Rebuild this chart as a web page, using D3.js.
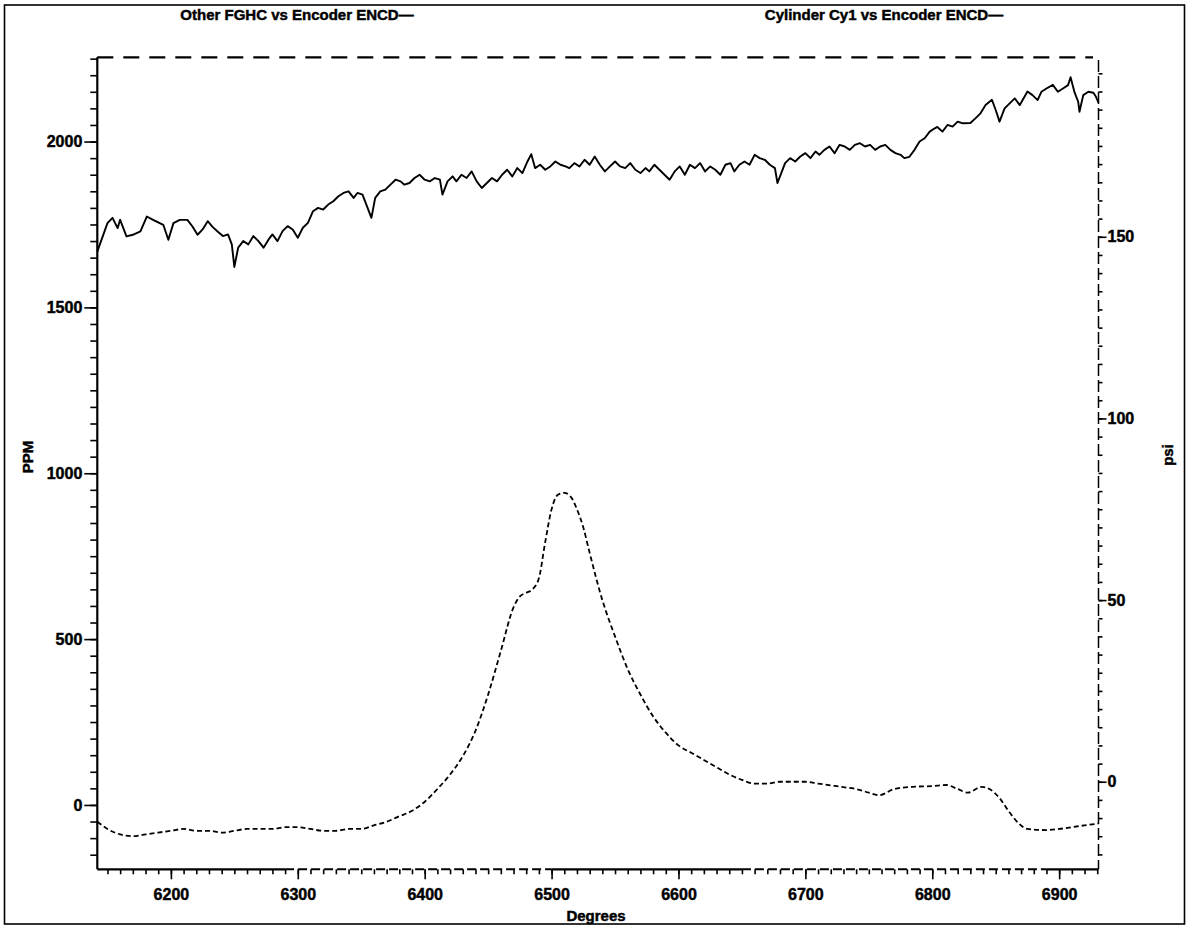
<!DOCTYPE html>
<html>
<head>
<meta charset="utf-8">
<script src="https://cdn.jsdelivr.net/npm/d3@7"></script>
<style>
  body { margin: 0; background: #fff; }
  svg text { font-family: "Liberation Sans", Arial, sans-serif; font-weight: bold; fill: #000; stroke: #000; stroke-width: 0.45px; }
</style>
</head>
<body>
<svg id="chart" width="1188" height="927"></svg>
<script>
// Other FGHC (PPM) against encoder angle (degrees)
const fghcDeg = [6142,6150,6154,6158,6160,6165,6170,6176,6181,6186,6194,6198,6202,6207,6213,6217,6221,6225,6229,6233,6237,6241,6245,6248,6250,6253,6257,6261,6265,6269,6273,6277,6280,6284,6288,6292,6296,6300,6304,6308,6312,6316,6320,6324,6328,6332,6336,6340,6344,6347,6351,6355,6358,6361,6365,6369,6373,6377,6381,6384,6388,6392,6396,6400,6404,6408,6412,6414,6418,6422,6425,6429,6433,6437,6441,6445,6449,6453,6457,6461,6465,6469,6473,6477,6481,6484,6487,6491,6495,6499,6503,6507,6511,6514,6518,6522,6526,6530,6534,6538,6542,6546,6550,6554,6558,6562,6566,6570,6574,6577,6581,6585,6589,6593,6597,6601,6605,6609,6613,6617,6621,6625,6629,6633,6637,6641,6644,6648,6652,6656,6660,6664,6668,6672,6676,6678,6681,6684,6688,6692,6696,6700,6704,6708,6711,6715,6719,6723,6727,6731,6735,6739,6743,6747,6751,6755,6759,6763,6767,6771,6775,6778,6782,6786,6790,6794,6798,6802,6804,6808,6812,6816,6820,6824,6830,6834,6838,6842,6847,6850,6853,6857,6861,6865,6869,6875,6879,6883,6886,6890,6895,6899,6903,6907,6909,6912,6915,6916,6919,6923,6927,6929,6931];
const fghcPpm = [1668,1754,1770,1739,1764,1714,1719,1729,1774,1764,1749,1704,1754,1764,1764,1744,1719,1735,1760,1742,1728,1715,1720,1690,1622,1680,1700,1690,1715,1700,1680,1705,1720,1700,1730,1745,1735,1710,1740,1755,1790,1800,1795,1810,1820,1835,1845,1850,1830,1845,1840,1800,1770,1830,1850,1855,1870,1885,1880,1870,1875,1890,1900,1885,1880,1890,1885,1840,1880,1895,1880,1900,1890,1910,1880,1860,1875,1890,1880,1900,1915,1895,1920,1905,1940,1962,1920,1930,1915,1925,1940,1930,1925,1920,1935,1925,1945,1930,1955,1930,1910,1925,1940,1925,1920,1935,1915,1905,1920,1910,1930,1915,1900,1885,1910,1925,1900,1930,1920,1935,1910,1925,1915,1900,1930,1935,1910,1930,1940,1930,1960,1950,1945,1930,1920,1875,1905,1935,1950,1940,1955,1965,1950,1970,1960,1975,1985,1965,1990,1985,1975,1990,1995,1985,1990,1975,1985,1990,1975,1965,1960,1950,1954,1975,2000,2010,2030,2040,2044,2030,2050,2045,2060,2055,2056,2070,2085,2110,2126,2095,2060,2100,2115,2130,2110,2151,2140,2125,2150,2160,2171,2150,2160,2170,2194,2150,2120,2090,2140,2150,2147,2135,2117];

// Cylinder Cy1 pressure (psi) against encoder angle (degrees)
const cylDeg = [6142,6150,6160,6170,6180,6190,6200,6210,6220,6230,6240,6250,6260,6270,6280,6290,6300,6310,6320,6330,6340,6350,6360,6370,6380,6390,6400,6410,6420,6430,6440,6450,6460,6470,6475,6480,6485,6490,6495,6500,6505,6510,6515,6520,6525,6530,6540,6550,6560,6570,6580,6590,6600,6610,6620,6630,6640,6650,6660,6670,6680,6690,6700,6710,6720,6730,6740,6750,6758,6770,6784,6800,6811,6820,6828,6839,6845,6853,6860,6868,6875,6890,6900,6910,6920,6931];
const cylPsi = [-11,-13,-14.5,-15,-14.5,-14,-13.5,-13,-13.5,-13.5,-14,-13.5,-13,-13,-13,-12.5,-12.5,-13,-13.5,-13.5,-13,-13,-12,-11,-9.5,-8,-5.5,-2,2,7,14,24,36,48,51,52,53,56,66,75,79,79.5,78.5,75,70,63,50,40,31,24,18,13.5,10,8,6,4,2,0.5,-0.5,-0.5,0,0,0,-0.5,-1,-1.5,-2,-3,-3.7,-2,-1.4,-1.2,-0.9,-2,-3,-1.4,-2,-4.5,-8,-11.4,-13,-13.3,-13,-12.5,-12,-11.5];

const ppmTicks = [0, 500, 1000, 1500, 2000];
const psiTicks = [0, 50, 100, 150];
const degTicks = [6200, 6300, 6400, 6500, 6600, 6700, 6800, 6900];

const titleLeft = "Other FGHC vs Encoder ENCD\u2014";
const titleRight = "Cylinder Cy1 vs Encoder ENCD\u2014";

const svg = d3.select("#chart");

const plot = { left: 97.3, right: 1098.5, top: 57.3, bottom: 869.3 };

const x = d3.scaleLinear().domain([6142, 6931]).range([plot.left, plot.right]);
const yL = d3.scaleLinear().domain([-194, 2254]).range([plot.bottom, plot.top]);
const yR = d3.scaleLinear().domain([-24.1, 199.4]).range([plot.bottom, plot.top]);

// page border
svg.append("rect").attr("x", 4.5).attr("y", 5).attr("width", 1180).attr("height", 919)
  .attr("fill", "none").attr("stroke", "#000").attr("stroke-width", 1.6);

// titles
svg.append("text").attr("x", 297).attr("y", 20).attr("text-anchor", "middle")
  .attr("font-size", 15).text(titleLeft);
svg.append("text").attr("x", 884).attr("y", 20).attr("text-anchor", "middle")
  .attr("font-size", 15).text(titleRight);

function styleAxis(g) {
  g.select(".domain").remove();
  g.selectAll(".tick line").attr("stroke", "#000").attr("stroke-width", 1.6);
  g.selectAll(".tick text").attr("font-size", 16).attr("font-family", null).attr("fill", "#000");
}

// left axis (PPM)
svg.append("g").attr("transform", `translate(${plot.left},0)`)
  .call(d3.axisLeft(yL).tickValues(d3.range(-150, 2251, 50)).tickSize(7).tickFormat(""))
  .call(styleAxis);
svg.append("g").attr("transform", `translate(${plot.left},0)`)
  .call(d3.axisLeft(yL).tickValues(ppmTicks).tickSize(13).tickPadding(2).tickFormat(d3.format("d")))
  .call(styleAxis);
svg.append("line").attr("x1", plot.left).attr("x2", plot.left).attr("y1", plot.top).attr("y2", plot.bottom)
  .attr("stroke", "#000").attr("stroke-width", 2.2);

// top frame, dashed
svg.append("line").attr("x1", plot.left).attr("x2", 1093).attr("y1", plot.top).attr("y2", plot.top)
  .attr("stroke", "#000").attr("stroke-width", 2.2).attr("stroke-dasharray", "16,10");

// right axis (psi), dashed
svg.append("g").attr("transform", `translate(${plot.right},0)`)
  .call(d3.axisRight(yR).tickValues(d3.range(-20, 200, 5)).tickSize(4).tickFormat(""))
  .call(styleAxis);
svg.append("g").attr("transform", `translate(${plot.right},0)`)
  .call(d3.axisRight(yR).tickValues(psiTicks).tickSize(8).tickPadding(1).tickFormat(d3.format("d")))
  .call(styleAxis);
svg.append("line").attr("x1", plot.right).attr("x2", plot.right).attr("y1", 60).attr("y2", plot.bottom)
  .attr("stroke", "#000").attr("stroke-width", 1.5).attr("stroke-dasharray", "12,4");

// bottom axis (Degrees)
svg.append("g").attr("transform", `translate(0,${plot.bottom})`)
  .call(d3.axisBottom(x).tickValues(d3.range(6150, 6931, 10)).tickSize(5).tickFormat(""))
  .call(styleAxis);
svg.append("g").attr("transform", `translate(0,${plot.bottom})`)
  .call(d3.axisBottom(x).tickValues(degTicks).tickSize(10).tickPadding(9).tickFormat(d3.format("d")))
  .call(styleAxis);
const solidSpans = [[6142, 6290], [6500, 6650], [6890, 6931]];
const dashedSpans = [[6290, 6500], [6650, 6890]];
solidSpans.forEach(([a, b]) => svg.append("line")
  .attr("x1", x(a)).attr("x2", x(b)).attr("y1", plot.bottom).attr("y2", plot.bottom)
  .attr("stroke", "#000").attr("stroke-width", 2.2));
dashedSpans.forEach(([a, b]) => svg.append("line")
  .attr("x1", x(a)).attr("x2", x(b)).attr("y1", plot.bottom).attr("y2", plot.bottom)
  .attr("stroke", "#000").attr("stroke-width", 2).attr("stroke-dasharray", "9,4"));

// axis titles
svg.append("text").attr("transform", "translate(33,457) rotate(-90)").attr("text-anchor", "middle")
  .attr("font-size", 15).text("PPM");
svg.append("text").attr("transform", "translate(1173,455) rotate(-90)").attr("text-anchor", "middle")
  .attr("font-size", 15).text("psi");
svg.append("text").attr("x", 596).attr("y", 921).attr("text-anchor", "middle")
  .attr("font-size", 15).text("Degrees");

// FGHC trace, solid
const fghc = fghcDeg.map((d, i) => [d, fghcPpm[i]]);
svg.append("path").datum(fghc)
  .attr("d", d3.line().x(d => x(d[0])).y(d => yL(d[1])))
  .attr("fill", "none").attr("stroke", "#000").attr("stroke-width", 1.9).attr("stroke-linejoin", "round");

// cylinder pressure trace, dashed
const cyl = cylDeg.map((d, i) => [d, cylPsi[i]]);
svg.append("path").datum(cyl)
  .attr("d", d3.line().curve(d3.curveMonotoneX).x(d => x(d[0])).y(d => yR(d[1])))
  .attr("fill", "none").attr("stroke", "#000").attr("stroke-width", 1.8).attr("stroke-dasharray", "5,3");
</script>
</body>
</html>
